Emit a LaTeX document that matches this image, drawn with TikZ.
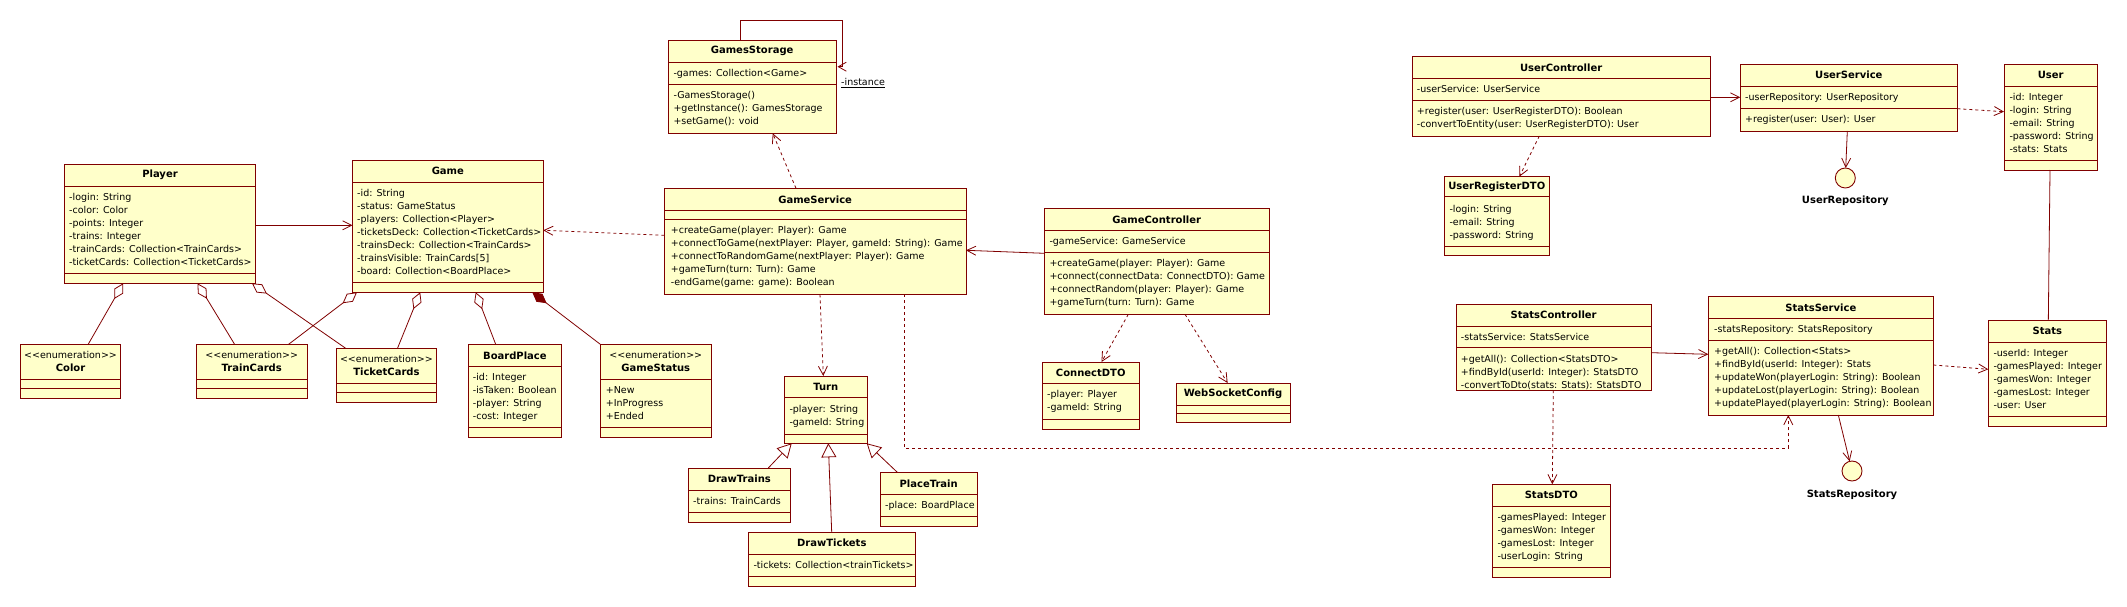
\documentclass[tikz,border=0pt]{standalone}
\usepackage{fontspec}
\setmainfont{DejaVu Sans}[Ligatures=TeXOff]
\usetikzlibrary{arrows.meta}
\definecolor{umlred}{RGB}{128,0,0}
\definecolor{umlfill}{RGB}{255,255,202}
\tikzset{
  cls/.style={draw=umlred, fill=umlfill, line width=0.9pt, inner sep=0pt, outer sep=0pt, anchor=north west, rectangle},
  sepline/.style={draw=umlred, line width=0.9pt},
  tt/.style={font=\fontsize{10}{13}\selectfont\bfseries, inner sep=0pt, align=center},
  body/.style={font=\fontsize{9.5}{13}\selectfont, align=left, anchor=north west, inner sep=0pt},
  conn/.style={draw=umlred, line width=0.8pt},
  dep/.style={dash pattern=on 3pt off 3pt},
  nav/.style={-{Straight Barb[length=9pt,width=9pt]}},
  aggr/.style={{Diamond[open,length=18pt,width=10pt]}-},
  gen/.style={-{Triangle[open,length=14pt,width=15pt]}},
  iface/.style={circle, draw=umlred, fill=umlfill, line width=0.9pt, minimum size=20pt, inner sep=0pt, outer sep=0pt},
}
\newcommand\umlcls[8]{%
  \node[cls, minimum width={#4-#2}, minimum height={#5-#3}] (#1) at (#2,#3) {};
  \draw[sepline] (#2,#6) -- (#4,#6) (#2,#7) -- (#4,#7);
  \node[tt] (#1-t) at ({(#2+#4)/2},{(#3+#6)/2}) {#8};
}
\newcommand\umltxt[4]{%
  \node[body] (#1) at (#2,{#3-5.9}) {\strut #4};
}
\newcommand\enm{{\mdseries\fontsize{9.5}{13}\selectfont<<enumeration>>}\\}
\begin{document}
\begin{tikzpicture}[x=1pt,y=-1pt]
\fill[white] (0,0) rectangle (2127,607);
\useasboundingbox (0,0) rectangle (2127,607);

% ---------- classes ----------
\umlcls{player}{64.3}{164.3}{255.7}{283.3}{186}{273.3}{Player}
\umltxt{player-a}{69}{197}{-login: String\\-color: Color\\-points: Integer\\-trains: Integer\\-trainCards: Collection<TrainCards>\\-ticketCards: Collection<TicketCards>}

\umlcls{game}{352.5}{160.3}{543.2}{292.3}{182.3}{282.3}{Game}
\umltxt{game-a}{357}{193}{-id: String\\-status: GameStatus\\-players: Collection<Player>\\-ticketsDeck: Collection<TicketCards>\\-trainsDeck: Collection<TrainCards>\\-trainsVisible: TrainCards[5]\\-board: Collection<BoardPlace>}

\umlcls{color}{20.4}{344.3}{120.7}{398.3}{379.3}{388.3}{\enm Color}
\umlcls{traincards}{196.4}{344.3}{307.1}{398.3}{379.3}{388.3}{\enm TrainCards}
\umlcls{ticketcards}{336.4}{348.3}{436.4}{402.3}{383.3}{392.7}{\enm TicketCards}

\umlcls{boardplace}{468.3}{344.3}{561.5}{437.2}{366.5}{427.2}{BoardPlace}
\umltxt{boardplace-a}{472.7}{377}{-id: Integer\\-isTaken: Boolean\\-player: String\\-cost: Integer}

\umlcls{gamestatus}{600.3}{344.3}{711.3}{437.2}{379.2}{427.2}{\enm GameStatus}
\umltxt{gamestatus-a}{605.7}{389.7}{+New\\+InProgress\\+Ended}

\umlcls{gamesstorage}{668.3}{40}{836}{133.3}{62}{84}{GamesStorage}
\umltxt{gamesstorage-a}{673.3}{72.7}{-games: Collection<Game>}
\umltxt{gamesstorage-o}{673.3}{94.7}{-GamesStorage()\\+getInstance(): GamesStorage\\+setGame(): void}

\umlcls{gameservice}{664.3}{188.3}{966}{294.3}{210.7}{219}{GameService}
\umltxt{gameservice-o}{670.7}{230.3}{+createGame(player: Player): Game\\+connectToGame(nextPlayer: Player, gameId: String): Game\\+connectToRandomGame(nextPlayer: Player): Game\\+gameTurn(turn: Turn): Game\\-endGame(game: game): Boolean}

\umlcls{gamecontroller}{1044.3}{208.3}{1269.3}{314.3}{230.7}{252.3}{GameController}
\umltxt{gamecontroller-a}{1049.3}{241}{-gameService: GameService}
\umltxt{gamecontroller-o}{1049.3}{262.7}{+createGame(player: Player): Game\\+connect(connectData: ConnectDTO): Game\\+connectRandom(player: Player): Game\\+gameTurn(turn: Turn): Game}

\umlcls{connectdto}{1042}{362}{1139.5}{429}{383.5}{419.5}{ConnectDTO}
\umltxt{connectdto-a}{1047}{394.5}{-player: Player\\-gameId: String}

\umlcls{websocketconfig}{1176}{383}{1290}{422}{405}{413.5}{WebSocketConfig}

\umlcls{turn}{784.3}{376}{867.3}{443.3}{397.7}{434}{Turn}
\umltxt{turn-a}{789.3}{409}{-player: String\\-gameId: String}

\umlcls{drawtrains}{688.3}{468}{790.3}{522.3}{490}{512.3}{DrawTrains}
\umltxt{drawtrains-a}{693}{501}{-trains: TrainCards}

\umlcls{placetrain}{880.3}{472.3}{977}{526}{494.3}{516.7}{PlaceTrain}
\umltxt{placetrain-a}{885}{505}{-place: BoardPlace}

\umlcls{drawtickets}{748.3}{532.3}{915.3}{586}{554}{576.7}{DrawTickets}
\umltxt{drawtickets-a}{753.3}{565}{-tickets: Collection<trainTickets>}

\umlcls{usercontroller}{1412.3}{56.7}{1710}{136}{78.3}{100}{UserController}
\umltxt{usercontroller-a}{1416.7}{89.3}{-userService: UserService}
\umltxt{usercontroller-o}{1416.7}{111}{+register(user: UserRegisterDTO): Boolean\\-convertToEntity(user: UserRegisterDTO): User}

\umlcls{userregisterdto}{1444.3}{176.7}{1549.3}{255.5}{196.7}{246.5}{UserRegisterDTO}
\umltxt{userregisterdto-a}{1449.3}{209}{-login: String\\-email: String\\-password: String}

\umlcls{userservice}{1740.3}{64.3}{1957.3}{131}{86}{108.3}{UserService}
\umltxt{userservice-a}{1745}{97.3}{-userRepository: UserRepository}
\umltxt{userservice-o}{1745}{119.3}{+register(user: User): User}

\umlcls{user}{2004}{64.3}{2097.3}{170}{86}{160}{User}
\umltxt{user-a}{2009.3}{97.3}{-id: Integer\\-login: String\\-email: String\\-password: String\\-stats: Stats}

\umlcls{statscontroller}{1456}{304}{1651.3}{390}{326}{347.3}{StatsController}
\umltxt{statscontroller-a}{1460.7}{337}{-statsService: StatsService}
\umltxt{statscontroller-o}{1460.7}{359.5}{+getAll(): Collection<StatsDTO>\\+findById(userId: Integer): StatsDTO\\-convertToDto(stats: Stats): StatsDTO}

\umlcls{statsservice}{1708.3}{296.7}{1933.3}{415}{318.3}{340.7}{StatsService}
\umltxt{statsservice-a}{1714}{329.3}{-statsRepository: StatsRepository}
\umltxt{statsservice-o}{1714}{351}{+getAll(): Collection<Stats>\\+findById(userId: Integer): Stats\\+updateWon(playerLogin: String): Boolean\\+updateLost(playerLogin: String): Boolean\\+updatePlayed(playerLogin: String): Boolean}

\umlcls{stats}{1988.3}{320.7}{2106.3}{426}{342}{416.7}{Stats}
\umltxt{stats-a}{1993.3}{352.7}{-userId: Integer\\-gamesPlayed: Integer\\-gamesWon: Integer\\-gamesLost: Integer\\-user: User}

\umlcls{statsdto}{1492.3}{484.3}{1610.3}{577}{506}{567.7}{StatsDTO}
\umltxt{statsdto-a}{1497.3}{517.3}{-gamesPlayed: Integer\\-gamesWon: Integer\\-gamesLost: Integer\\-userLogin: String}

% interfaces
\node[iface] (userrepo) at (1845.3,178) {};
\node[tt] (userrepo-l) at (1845.3,200.7) {UserRepository};
\node[iface] (statsrepo) at (1852,471) {};
\node[tt] (statsrepo-l) at (1852,495) {StatsRepository};

% ---------- connectors ----------
\draw[conn, nav] ([yshift=-61pt]player.north east) -- ([yshift=-65pt]game.north west);
\draw[conn, aggr] ([xshift=58.9pt]player.south west) -- ([xshift=67.8pt]color.north west);
\draw[conn, aggr] ([xshift=133.2pt]player.south west) -- ([xshift=38.2pt]traincards.north west);
\draw[conn, aggr] ([xshift=187.7pt]player.south west) -- ([xshift=9.3pt]ticketcards.north west);
\draw[conn, aggr] ([xshift=4.5pt]game.south west) -- ([xshift=92.2pt]traincards.north west);
\draw[conn, aggr] ([xshift=67.7pt]game.south west) -- ([xshift=61.1pt]ticketcards.north west);
\draw[conn, aggr] ([xshift=123.2pt]game.south west) -- ([xshift=27.4pt]boardplace.north west);
\draw[conn, {Diamond[length=18pt,width=10pt,fill=umlred]}-] ([xshift=179.8pt]game.south west) -- (gamestatus.north west);

% GamesStorage self association
\draw[conn, -{Straight Barb[length=8pt,width=9pt]}] ([xshift=71.7pt]gamesstorage.north west) -- ++(0,-20) -| ([xshift=6.3pt,yshift=-26.7pt]gamesstorage.north east) -- ([xshift=1.5pt,yshift=-26.7pt]gamesstorage.north east);
\node[font=\fontsize{9.5}{13}\selectfont, anchor=west, inner sep=0pt] (instance-l) at (841,82.7) {\underline{-instance}};

\draw[conn, dep, nav] ([xshift=131.7pt]gameservice.north west) -- ([xshift=104.4pt]gamesstorage.south west);
\draw[conn, dep, nav] ([yshift=-47pt]gameservice.north west) -- ([yshift=-70pt]game.north east);
\draw[conn, nav] ([yshift=-45pt]gamecontroller.north west) -- ([yshift=-62pt]gameservice.north east);
\draw[conn, dep, nav] ([xshift=155.7pt]gameservice.south west) -- ([xshift=39pt]turn.north west);
\draw[conn, dep, nav] ([xshift=240pt]gameservice.south west) -- ++(0,154) -| ([xshift=80pt]statsservice.south west);
\draw[conn, dep, nav] ([xshift=84pt]gamecontroller.south west) -- ([xshift=59.5pt]connectdto.north west);
\draw[conn, dep, nav] ([xshift=140.7pt]gamecontroller.south west) -- ([xshift=51.6pt]websocketconfig.north west);

\draw[conn, gen] ([xshift=80pt]drawtrains.north west) -- ([xshift=7.4pt]turn.south west);
\draw[conn, gen] ([xshift=83.4pt]drawtickets.north west) -- ([xshift=44pt]turn.south west);
\draw[conn, gen] ([xshift=17pt]placetrain.north west) -- ([xshift=82.4pt]turn.south west);

\draw[conn, nav] ([yshift=-40.6pt]usercontroller.north east) -- ([yshift=-33pt]userservice.north west);
\draw[conn, dep, nav] ([xshift=127pt]usercontroller.south west) -- ([xshift=75pt]userregisterdto.north west);
\draw[conn, dep, nav] ([yshift=-44.4pt]userservice.north east) -- ([yshift=-47.4pt]user.north west);
\draw[conn, nav] ([xshift=107pt]userservice.south west) -- (userrepo);
\draw[conn] ([xshift=46pt]user.south west) -- ([xshift=60pt]stats.north west);

\draw[conn, nav] ([yshift=-48.7pt]statscontroller.north east) -- ([yshift=-57.6pt]statsservice.north west);
\draw[conn, dep, nav] ([xshift=97.3pt]statscontroller.south west) -- ([xshift=60pt]statsdto.north west);
\draw[conn, dep, nav] ([yshift=-68.3pt]statsservice.north east) -- ([yshift=-48.6pt]stats.north west);
\draw[conn, nav] ([xshift=130pt]statsservice.south west) -- (statsrepo);
\end{tikzpicture}
\end{document}
